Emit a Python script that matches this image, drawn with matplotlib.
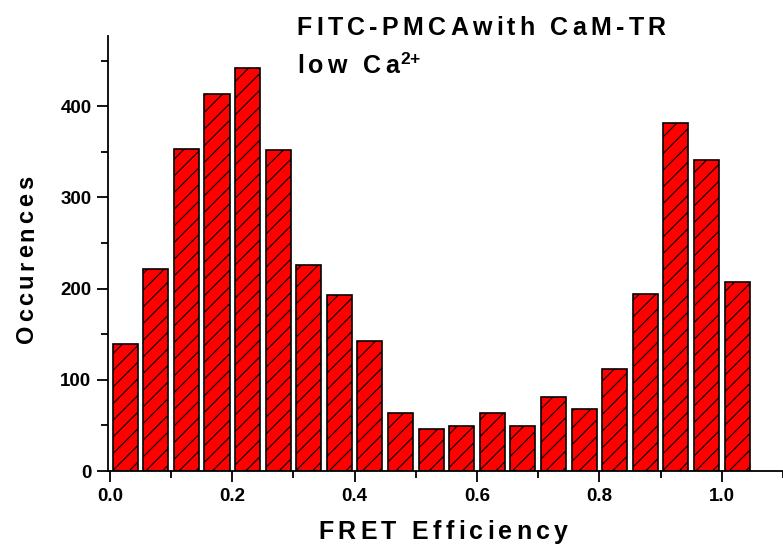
import matplotlib
matplotlib.use("Agg")
import matplotlib.pyplot as plt
from matplotlib.text import Text
from matplotlib.transforms import IdentityTransform
from matplotlib.ticker import MultipleLocator
import numpy as np
import re

# FRET efficiency histogram (bin centres, 0.05 wide bins)
bin_centres = np.arange(0.025, 1.05, 0.05)
occurences = [139, 222, 353, 413, 442, 352, 226, 193, 143, 64, 46,
              49, 64, 49, 81, 68, 112, 194, 382, 341, 207]

title_line1 = "FITC-PMCAwith CaM-TR"
title_line2 = r"low Ca$^{2{+}}$"
x_label = "FRET Efficiency"
y_label = "Occurences"

plt.rcParams["font.family"] = ["Liberation Sans", "DejaVu Sans"]
plt.rcParams["font.weight"] = "bold"
plt.rcParams["mathtext.fontset"] = "custom"
plt.rcParams["mathtext.rm"] = "Liberation Sans:bold"
plt.rcParams["mathtext.it"] = "Liberation Sans:bold"
plt.rcParams["mathtext.bf"] = "Liberation Sans:bold"
plt.rcParams["hatch.linewidth"] = 0.8


class TrackedText(Text):
    """Text drawn with extra letter spacing (tracking, in em)."""

    def __init__(self, x, y, text, tracking=0.25, **kw):
        super().__init__(x, y, text, **kw)
        self.tracking = tracking

    def draw(self, renderer):
        if not self.get_visible():
            return
        fp = self.get_fontproperties()
        em = renderer.points_to_pixels(fp.get_size_in_points())
        tokens = re.findall(r"\$[^$]*\$|.", self.get_text())
        widths = []
        for tok in tokens:
            if tok == " ":
                widths.append(0.28 * em)
            else:
                w, _, _ = renderer.get_text_width_height_descent(
                    tok, fp, ismath=tok.startswith("$"))
                widths.append(w)
        gap = self.tracking * em
        total = sum(widths) + gap * (len(tokens) - 1)
        x0, y0 = self.get_transform().transform(self.get_unitless_position())
        ang = np.deg2rad(self.get_rotation())
        dx, dy = np.cos(ang), np.sin(ang)
        start = {"left": 0, "center": -total / 2, "right": -total}[self.get_ha()]
        pos = start
        for i, (tok, w) in enumerate(zip(tokens, widths)):
            if tok.startswith("$"):
                pos -= gap * 0.7  # superscript sits close to the previous letter
            t = Text(x0 + pos * dx, y0 + pos * dy, tok, fontproperties=fp,
                     color=self.get_color(), rotation=self.get_rotation(),
                     rotation_mode="anchor", ha="left", va="baseline",
                     transform=IdentityTransform())
            t.set_figure(self.figure)
            t.draw(renderer)
            pos += w + gap


fig = plt.figure(figsize=(7.83, 5.48), dpi=100)
ax = fig.add_axes([0.138, 0.1405, 0.862, 0.794])

ax.bar(bin_centres, occurences, width=0.041, color="#ff0000",
       edgecolor="black", linewidth=1.2, hatch="//")

ax.set_xlim(-0.003, 1.1)
ax.set_ylim(0, 477)
ax.xaxis.set_major_locator(MultipleLocator(0.2))
ax.xaxis.set_minor_locator(MultipleLocator(0.1))
ax.yaxis.set_major_locator(MultipleLocator(100))
ax.yaxis.set_minor_locator(MultipleLocator(50))
ax.xaxis.set_major_formatter(plt.FuncFormatter(lambda v, p: f"{v:.1f}"))

for s in ("top", "right"):
    ax.spines[s].set_visible(False)
for s in ("left", "bottom"):
    ax.spines[s].set_linewidth(1.3)

ax.tick_params(which="major", direction="out", length=8, width=1.3,
               labelsize=13.5, pad=4)
ax.tick_params(which="minor", direction="out", length=5, width=1.3)

# labels and title, letter-spaced like the original
for x, y, s, size, kw in [
    (0.379, 0.937, title_line1, 18, dict(ha="left", tracking=0.17)),
    (0.379, 0.867, title_line2, 18, dict(ha="left", tracking=0.17)),
    (0.566, 0.016, x_label, 18, dict(ha="center", tracking=0.17)),
    (0.042, 0.526, y_label, 17, dict(ha="center", rotation=90, tracking=0.15)),
]:
    fig.add_artist(TrackedText(x, y, s, transform=fig.transFigure,
                               fontsize=size, fontweight="bold", **kw))

fig.savefig("out.png", dpi=100)
